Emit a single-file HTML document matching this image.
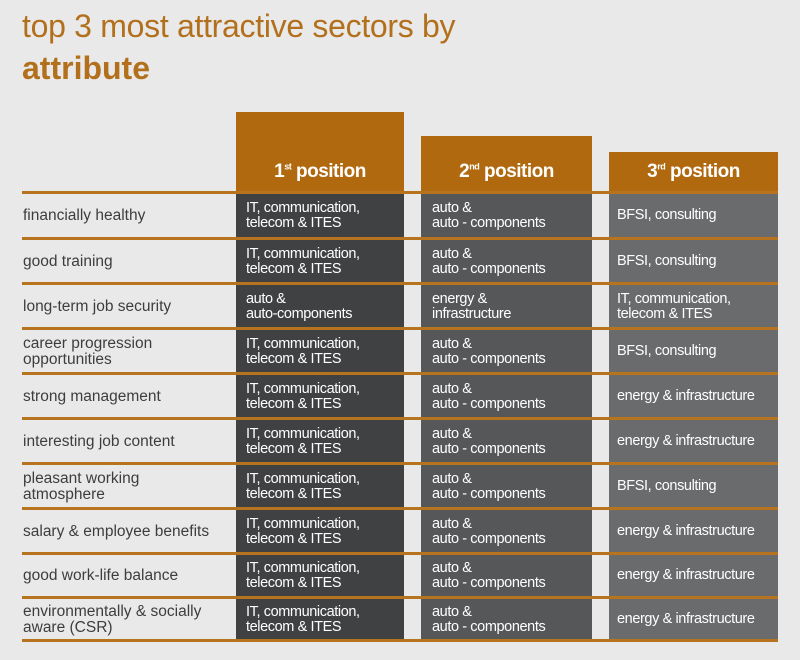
<!DOCTYPE html><html><head><style>
body{margin:0;width:800px;height:660px;background:#e9e9e9;font-family:"Liberation Sans",sans-serif;position:relative;overflow:hidden}
.a{position:absolute}
.t1{left:22px;top:8px;font-size:32px;color:#b3701c;letter-spacing:-0.3px}
.t2{left:22px;top:50px;font-size:32px;color:#b3701c;font-weight:bold}
.hd{background:#b1690f;color:#fff;font-weight:bold;font-size:19px;text-align:center;box-sizing:border-box;padding-bottom:9px;display:flex;align-items:flex-end;justify-content:center;letter-spacing:-0.5px}
.hd sup{font-size:9px;vertical-align:super;line-height:0}
.col{top:192px;height:448px}
.ln{left:22px;width:756px;height:3px;background:#b7731e}
.lb{left:23px;font-size:15.5px;color:#3d3d3d;line-height:16px}
.c{font-size:14.5px;color:#fff;line-height:15px;letter-spacing:-0.4px}
</style></head><body>
<div class="a t1">top 3 most attractive sectors by</div>
<div class="a t2">attribute</div>
<div class="a hd" style="left:236px;top:112px;width:168px;height:80px"><span>1<sup>st</sup>&nbsp;position</span></div>
<div class="a hd" style="left:421px;top:136px;width:171px;height:56px"><span>2<sup>nd</sup>&nbsp;position</span></div>
<div class="a hd" style="left:609px;top:152px;width:169px;height:40px"><span>3<sup>rd</sup>&nbsp;position</span></div>
<div class="a col" style="left:236px;width:168px;background:#404143"></div>
<div class="a col" style="left:421px;width:171px;background:#565759"></div>
<div class="a col" style="left:609px;width:169px;background:#6a6b6d"></div>
<div id="g"></div>
<script>
var L=[192,238,283,328,373,418,463,508,553,597,640];
var R=[["financially healthy","IT, communication,<br>telecom & ITES","auto &<br>auto - components","BFSI, consulting"],
["good training","IT, communication,<br>telecom & ITES","auto &<br>auto - components","BFSI, consulting"],
["long-term job security","auto &<br>auto-components","energy &<br>infrastructure","IT, communication,<br>telecom & ITES"],
["career progression<br>opportunities","IT, communication,<br>telecom & ITES","auto &<br>auto - components","BFSI, consulting"],
["strong management","IT, communication,<br>telecom & ITES","auto &<br>auto - components","energy & infrastructure"],
["interesting job content","IT, communication,<br>telecom & ITES","auto &<br>auto - components","energy & infrastructure"],
["pleasant working<br>atmosphere","IT, communication,<br>telecom & ITES","auto &<br>auto - components","BFSI, consulting"],
["salary & employee benefits","IT, communication,<br>telecom & ITES","auto &<br>auto - components","energy & infrastructure"],
["good work-life balance","IT, communication,<br>telecom & ITES","auto &<br>auto - components","energy & infrastructure"],
["environmentally & socially<br>aware (CSR)","IT, communication,<br>telecom & ITES","auto &<br>auto - components","energy & infrastructure"]];
var h="";
L.forEach(function(y){h+='<div class="a ln" style="top:'+(y-1)+'px"></div>';});
var X=[23,246,432,617];
R.forEach(function(r,i){var m=(L[i]+L[i+1])/2+1;
for(var k=0;k<4;k++){var two=r[k].indexOf("<br>")>=0;var hh=two?(k?30:32):16;
h+='<div class="a '+(k?'c':'lb')+'" style="left:'+X[k]+'px;top:'+(m-hh/2)+'px">'+r[k]+'</div>';}});
document.getElementById("g").innerHTML=h;
</script>
</body></html>
